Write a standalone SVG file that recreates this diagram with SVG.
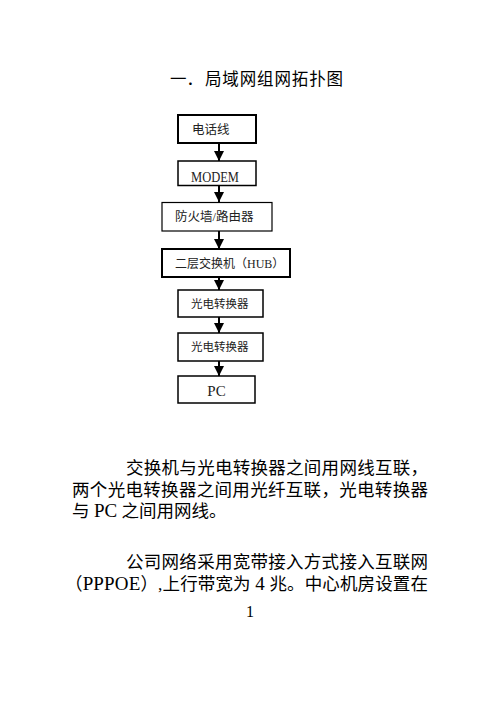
<svg xmlns="http://www.w3.org/2000/svg" width="500" height="705" viewBox="0 0 500 705">
<style>
text{font-family:"Liberation Serif","Noto Sans CJK SC",serif;fill:#000}
.box rect{fill:#fff;stroke:#000;stroke-width:1.5}
.lbl{fill:#222}
.body{font-size:17.5px}
.lat{font-size:19px}
.conn line{stroke:#000;stroke-width:2}
</style>
<defs>
<marker id="ah" markerUnits="userSpaceOnUse" markerWidth="11" markerHeight="10" refX="10" refY="5" orient="auto">
<path d="M0,0 L10,5 L0,10 Z" fill="#000"/>
</marker>
</defs>
<rect width="500" height="705" fill="#fff"/>
<g id="title">
<text x="170" y="85" font-size="16.5">一．</text>
<text x="205" y="85" font-size="16.5" textLength="138" lengthAdjust="spacing">局域网组网拓扑图</text>
</g>
<g class="conn" id="connectors">
<line x1="219" y1="143" x2="219" y2="161" marker-end="url(#ah)"/>
<line x1="219" y1="186" x2="219" y2="202" marker-end="url(#ah)"/>
<line x1="219" y1="231" x2="219" y2="249" marker-end="url(#ah)"/>
<line x1="219" y1="277" x2="219" y2="290" marker-end="url(#ah)"/>
<line x1="219" y1="317" x2="219" y2="333" marker-end="url(#ah)"/>
<line x1="219" y1="361" x2="219" y2="376" marker-end="url(#ah)"/>
</g>
<g class="box" id="n1"><rect x="178" y="115" width="78" height="28" style="stroke-width:2"/><text class="lbl" x="192" y="134" font-size="12.5">电话线</text></g>
<g class="box" id="n2"><rect x="178" y="161" width="78" height="24.5"/><text class="lbl" x="191" y="182" font-size="14" textLength="48" lengthAdjust="spacingAndGlyphs">MODEM</text></g>
<g class="box" id="n3"><rect x="162" y="202.5" width="110" height="28.5" style="stroke-width:1.2"/><text class="lbl" x="175" y="221" font-size="12.5">防火墙/路由器</text></g>
<g class="box" id="n4"><rect x="162" y="249" width="128" height="28" style="stroke-width:2"/><text class="lbl" x="175" y="268" font-size="12">二层交换机（HUB）</text></g>
<g class="box" id="n5"><rect x="178" y="290" width="85" height="27"/><text class="lbl" x="191" y="308" font-size="11.5">光电转换器</text></g>
<g class="box" id="n6"><rect x="178" y="333" width="85" height="28"/><text class="lbl" x="191" y="351" font-size="11.5">光电转换器</text></g>
<g class="box" id="n7"><rect x="178" y="376" width="77" height="27"/><text class="lbl" x="216.5" y="395.5" text-anchor="middle" font-size="15">PC</text></g>
<g id="paragraphs">
<text class="body" x="126" y="474" textLength="302" lengthAdjust="spacing">交换机与光电转换器之间用网线互联，</text>
<text class="body" x="72" y="496" textLength="356" lengthAdjust="spacing">两个光电转换器之间用光纤互联，光电转换器</text>
<text class="body" x="72" y="517">与 <tspan class="lat">PC</tspan> 之间用网线。</text>
<text class="body" x="126" y="568" textLength="302" lengthAdjust="spacing">公司网络采用宽带接入方式接入互联网</text>
<text class="body" x="65" y="590" textLength="363" lengthAdjust="spacing">（<tspan class="lat">PPPOE</tspan>）,上行带宽为 <tspan class="lat">4</tspan> 兆。中心机房设置在</text>
<text x="250" y="617" font-size="16" text-anchor="middle">1</text>
</g>
</svg>
